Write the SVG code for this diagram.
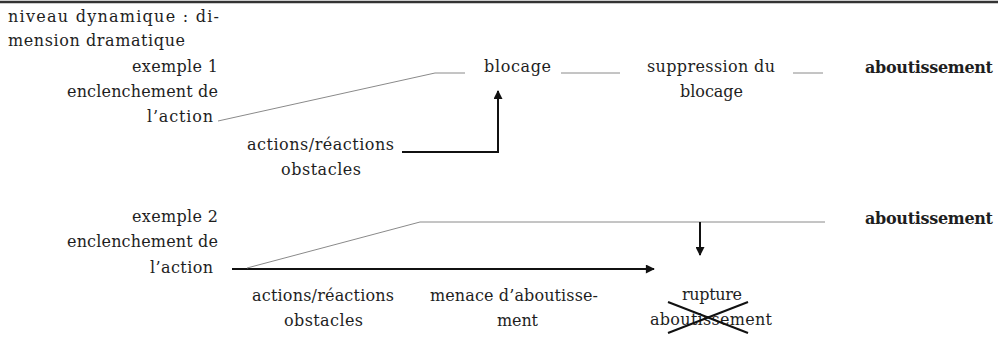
<svg xmlns="http://www.w3.org/2000/svg" width="998" height="339" viewBox="0 0 998 339">
  <defs>
    <marker id="arr" viewBox="0 0 10 10" refX="9" refY="5" markerWidth="10" markerHeight="9" markerUnits="userSpaceOnUse" orient="auto">
      <path d="M0,0 L10,5 L0,10 z" fill="#111"/>
    </marker>
  </defs>
  <style>
    text { font-size: 16px; fill: #1e1e1e; }
    .b { font-weight: bold; }
    .thin { stroke: #8a8a8a; stroke-width: 1; fill: none; }
    .bold { stroke: #111; stroke-width: 2; fill: none; }
  </style>
  <rect width="998" height="339" fill="#fff"/>
  <!-- top rule -->
  <line x1="0" y1="2" x2="998" y2="2" stroke="#333" stroke-width="2.5"/>

  <g font-family="DejaVu Serif, Liberation Serif, serif">
    <g id="title">
      <text x="8" y="22" textLength="211">niveau dynamique : di-</text>
      <text x="8" y="46" textLength="177">mension dramatique</text>
    </g>

    <!-- example 1 -->
    <g id="ex1-start">
      <text x="132" y="72" textLength="86">exemple 1</text>
      <text x="67" y="97" textLength="151">enclenchement de</text>
      <text x="147" y="122" textLength="66">l’action</text>
    </g>
    <g id="ex1-blocage"><text x="484" y="72" textLength="67">blocage</text></g>
    <g id="ex1-suppression">
      <text x="647" y="72" textLength="128">suppression du</text>
      <text x="680" y="97" textLength="63">blocage</text>
    </g>
    <g id="ex1-aboutissement"><text class="b" x="865" y="73" textLength="128">aboutissement</text></g>
    <g id="ex1-actions">
      <text x="247" y="150" textLength="147">actions/réactions</text>
      <text x="281" y="175" textLength="80">obstacles</text>
    </g>

    <!-- example 2 -->
    <g id="ex2-start">
      <text x="132" y="222" textLength="86">exemple 2</text>
      <text x="67" y="247" textLength="151">enclenchement de</text>
      <text x="150" y="273" textLength="63">l’action</text>
    </g>
    <g id="ex2-aboutissement"><text class="b" x="865" y="224" textLength="128">aboutissement</text></g>
    <g id="ex2-actions">
      <text x="252" y="301" textLength="142">actions/réactions</text>
      <text x="284" y="326" textLength="79">obstacles</text>
    </g>
    <g id="ex2-menace">
      <text x="430" y="301" textLength="168">menace d’aboutisse-</text>
      <text x="497" y="326" textLength="41">ment</text>
    </g>
    <g id="ex2-rupture">
      <text x="682" y="300" textLength="60">rupture</text>
      <text x="650" y="325" textLength="122">aboutissement</text>
      <line x1="668" y1="302" x2="748" y2="333" stroke="#111" stroke-width="2"/>
      <line x1="668" y1="333" x2="748" y2="302" stroke="#111" stroke-width="2"/>
    </g>
  </g>

  <g id="connectors">
    <!-- example 1 -->
    <polyline class="thin" points="218,121 435,73 465,73"/>
    <line class="thin" x1="561" y1="73" x2="620" y2="73"/>
    <line class="thin" x1="793" y1="73" x2="823" y2="73"/>
    <polyline class="bold" points="402,152 498,152 498,91" marker-end="url(#arr)"/>
    <!-- example 2 -->
    <line class="bold" x1="232" y1="269" x2="654" y2="269" marker-end="url(#arr)"/>
    <polyline class="thin" points="247,268 420,222 825,222"/>
    <line class="bold" x1="700" y1="222" x2="700" y2="255" marker-end="url(#arr)"/>
  </g>
</svg>
